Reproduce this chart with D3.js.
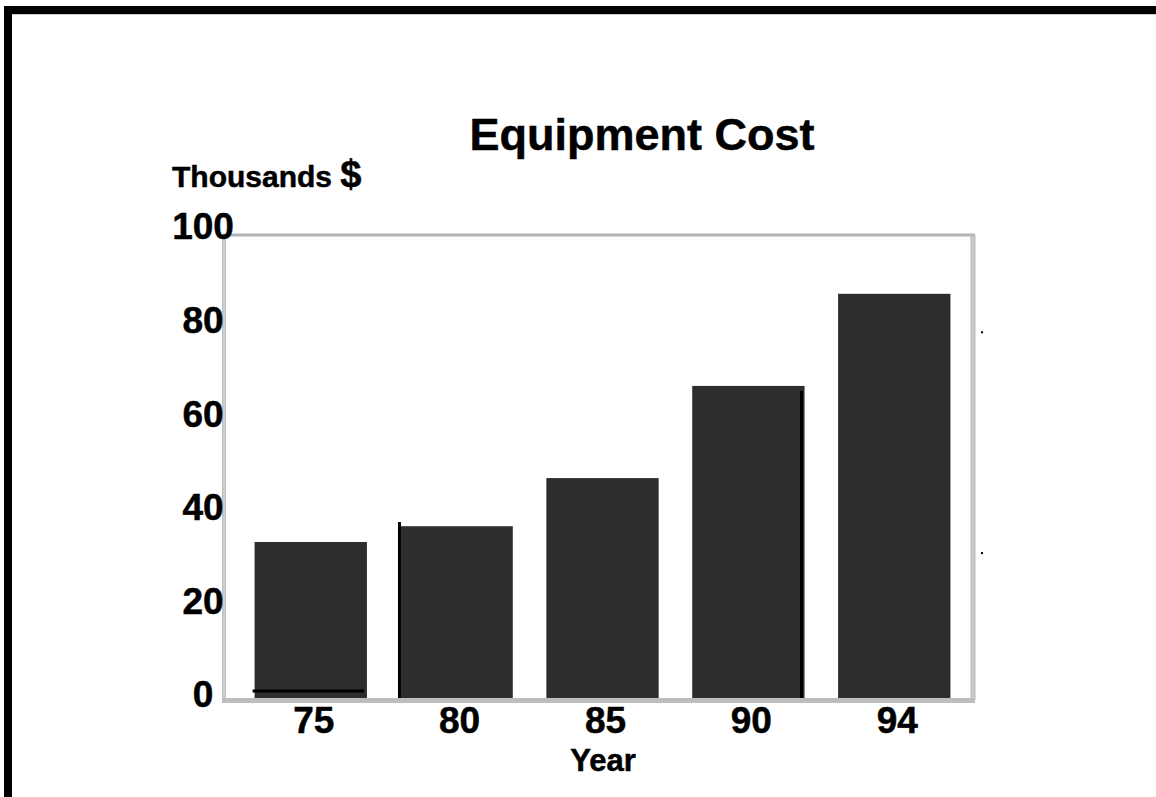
<!DOCTYPE html>
<html>
<head>
<meta charset="utf-8">
<script src="https://cdn.jsdelivr.net/npm/d3@7"></script>
<style>
  body { margin: 0; background: #fff; }
  text { font-family: "Liberation Sans", Arial, sans-serif; font-weight: bold; fill: #000;
         stroke: #000; stroke-width: 0.5px; }
</style>
</head>
<body>
<div id="chart"></div>
<script>
// data
const years = ["75", "80", "85", "90", "94"]
const cost = [33.7, 37.1, 47.5, 67.4, 87.3]   // thousands $
const yTicks = [0, 20, 40, 60, 80, 100]

const W = 1156, H = 797
const plot = { left: 225, top: 235, right: 973, bottom: 698 }

const svg = d3.select("#chart").append("svg")
    .attr("width", W)
    .attr("height", H)

// outer black frame (top and left only)
svg.append("rect").attr("x", 4).attr("y", 6).attr("width", W - 4).attr("height", 8).attr("fill", "#000")
svg.append("rect").attr("x", 4).attr("y", 6).attr("width", 8).attr("height", H - 6).attr("fill", "#000")
svg.append("line").attr("x1", 12).attr("x2", W).attr("y1", 14.5).attr("y2", 14.5)
    .attr("stroke", "#ccc").attr("stroke-width", 1)

/* ______________________________ scales ______________________________ */
const x = d3.scaleBand()
    .domain(years)
    .range([240, 965])
    .paddingInner(0.23)
    .paddingOuter(0.1)

const y = d3.scaleLinear()
    .domain([0, 100])
    .range([plot.bottom, plot.top])

// tick labels sit a little above their gridline position
const yLab = d3.scaleLinear()
    .domain([0, 100])
    .range([694, 226])

/* ______________________________ bars ______________________________ */
svg.append("g")
    .selectAll("rect")
    .data(cost)
    .enter().append("rect")
    .attr("x", (d, i) => x(years[i]))
    .attr("y", d => y(d))
    .attr("width", x.bandwidth())
    .attr("height", d => y(0) - y(d))
    .attr("fill", "#2d2d2d")

// stray black strokes on the bars
svg.append("line")
    .attr("x1", x("75") - 2).attr("x2", x("75") + x.bandwidth() - 3)
    .attr("y1", y(1.5)).attr("y2", y(1.5))
    .attr("stroke", "#000").attr("stroke-width", 3)
svg.append("line")
    .attr("x1", x("80") - 1).attr("x2", x("80") - 1)
    .attr("y1", y(38)).attr("y2", y(0))
    .attr("stroke", "#000").attr("stroke-width", 3)
svg.append("line")
    .attr("x1", x("90") + x.bandwidth() - 3).attr("x2", x("90") + x.bandwidth() - 3)
    .attr("y1", y(66.3)).attr("y2", y(0))
    .attr("stroke", "#000").attr("stroke-width", 3)

/* ______________________________ plot frame ______________________________ */
const frame = svg.append("g")
frame.append("line").attr("x1", plot.left - 2).attr("x2", plot.right + 2)
    .attr("y1", plot.top).attr("y2", plot.top)
    .attr("stroke", "#b4b4b4").attr("stroke-width", 3)
frame.append("line").attr("x1", plot.left - 1).attr("x2", plot.left - 1)
    .attr("y1", plot.top).attr("y2", plot.bottom + 2)
    .attr("stroke", "#bdbdbd").attr("stroke-width", 4)
frame.append("line").attr("x1", plot.left - 1).attr("x2", plot.left - 1)
    .attr("y1", plot.top + 2).attr("y2", plot.bottom)
    .attr("stroke", "#dcdcdc").attr("stroke-width", 1)
frame.append("line").attr("x1", plot.right).attr("x2", plot.right)
    .attr("y1", plot.top).attr("y2", plot.bottom + 2)
    .attr("stroke", "#bdbdbd").attr("stroke-width", 5)
frame.append("line").attr("x1", plot.right).attr("x2", plot.right)
    .attr("y1", plot.top + 2).attr("y2", plot.bottom)
    .attr("stroke", "#dcdcdc").attr("stroke-width", 1)
frame.append("line").attr("x1", plot.left - 3).attr("x2", plot.right + 2)
    .attr("y1", plot.bottom + 2.5).attr("y2", plot.bottom + 2.5)
    .attr("stroke", "#bdbdbd").attr("stroke-width", 5)

// two little dots right of the frame
svg.selectAll("rect.dot")
    .data([79, 31.3])
    .enter().append("rect")
    .attr("class", "dot")
    .attr("x", plot.right + 8)
    .attr("y", d => y(d) - 1)
    .attr("width", 2).attr("height", 2)
    .attr("fill", "#000")

/* ______________________________ texts ______________________________ */
svg.append("g")
    .selectAll("text")
    .data(yTicks)
    .enter().append("text")
    .attr("x", 203)
    .attr("y", d => yLab(d))
    .attr("dy", "0.36em")
    .attr("text-anchor", "middle")
    .style("font-size", "37px")
    .text(d => d)

svg.append("g")
    .selectAll("text")
    .data(years)
    .enter().append("text")
    .attr("x", d => x(d) + x.bandwidth() / 2 + 3)
    .attr("y", 733)
    .attr("text-anchor", "middle")
    .style("font-size", "37px")
    .text(d => d)

svg.append("text")
    .attr("x", 642).attr("y", 150)
    .attr("text-anchor", "middle")
    .style("font-size", "45px")
    .text("Equipment Cost")

const yt = svg.append("text")
    .attr("x", 172).attr("y", 187)
yt.append("tspan").style("font-size", "30px").text("Thousands ")
yt.append("tspan").style("font-size", "38px").text("$")

svg.append("text")
    .attr("x", 603).attr("y", 771)
    .attr("text-anchor", "middle")
    .style("font-size", "31px")
    .text("Year")
</script>
</body>
</html>
